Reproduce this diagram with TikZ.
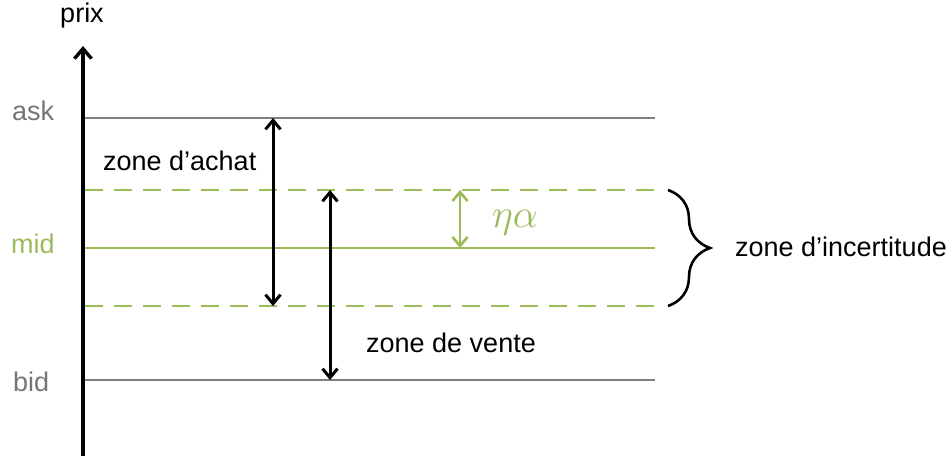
\RequirePackage{fix-cm}
\documentclass[tikz,border=0pt]{standalone}
\usepackage{fontspec}
\setmainfont{Liberation Sans}
\usetikzlibrary{arrows.meta,decorations.pathreplacing}
\definecolor{gline}{RGB}{128,128,128}
\definecolor{gtext}{RGB}{118,118,118}
\definecolor{ogreen}{RGB}{155,187,89}
\tikzset{
  lbl/.style={font=\fontsize{27}{32}\selectfont, inner sep=0pt},
  grayline/.style={draw=gline, line width=2pt},
  greensolid/.style={draw=ogreen, line width=2pt},
  greendash/.style={draw=ogreen, line width=2pt, dash pattern=on 18pt off 11pt},
  dbl/.style={line width=3pt, {Straight Barb[length=9pt,width=15pt]}-{Straight Barb[length=9pt,width=15pt]}},
}
\begin{document}
\begin{tikzpicture}[x=1pt,y=-1pt]
\useasboundingbox (0,0) rectangle (948,458);
% coordinates
\coordinate (axb) at (83,456);
\coordinate (axt) at (83,46);
\coordinate (askL) at (83,118); \coordinate (askR) at (655,118);
\coordinate (udL) at (85,190); \coordinate (udR) at (655,190);
\coordinate (midL) at (85,248); \coordinate (midR) at (655,248);
\coordinate (ldL) at (85,306); \coordinate (ldR) at (655,306);
\coordinate (bidL) at (83,380); \coordinate (bidR) at (655,380);
\coordinate (a1t) at (273,118); \coordinate (a1b) at (273,306);
\coordinate (a2t) at (330,190); \coordinate (a2b) at (330,380);
\coordinate (gt) at (460,190); \coordinate (gb) at (460,248);
\coordinate (brt) at (668,190); \coordinate (brb) at (668,306);
% lines
\draw[grayline] (askL) -- (askR);
\draw[grayline] (bidL) -- (bidR);
\draw[greendash] (udL) -- (udR);
\draw[greensolid] (midL) -- (midR);
\draw[greendash] (ldL) -- (ldR);
% axis
\draw[line width=3.4pt, -{Straight Barb[length=10pt,width=17pt]}] (axb) -- (axt);
% arrows
\draw[dbl] (a1t) -- (a1b);
\draw[dbl] (a2t) -- (a2b);
\draw[dbl, draw=ogreen, line width=2.6pt] (gt) -- (gb);
% brace
\draw[line width=2.6pt, decorate, decoration={brace, amplitude=42pt, aspect=0.5}] (brt) -- (brb);
% labels
\node[lbl, anchor=base] (prix) at (82,22) {prix};
\node[lbl, text=gtext, anchor=base west] (ask) at (12,120) {ask};
\node[lbl, text=ogreen, anchor=base west] (mid) at (11,253) {mid};
\node[lbl, text=gtext, anchor=base west] (bid) at (13,391) {bid};
\node[lbl, anchor=base west] (achat) at (103,170) {zone d’achat};
\node[lbl, anchor=base west] (vente) at (366,352) {zone de vente};
\node[lbl, anchor=base west] (incert) at (735,256) {zone d’incertitude};
\node[text=ogreen, font=\fontsize{40}{46}\selectfont, inner sep=0pt, anchor=base west] (eta) at (492,227) {$\eta\alpha$};
\end{tikzpicture}
\end{document}
